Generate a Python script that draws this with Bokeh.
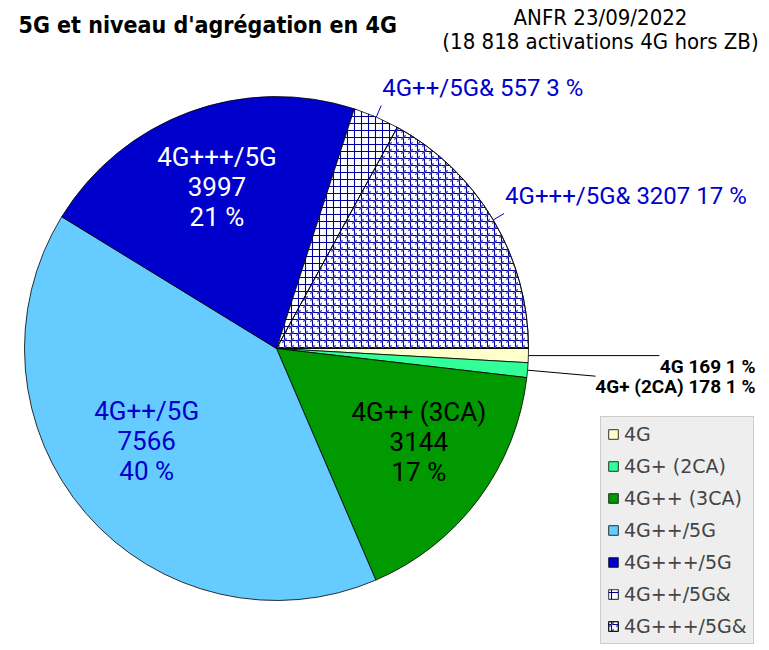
import math
from bokeh.plotting import figure
from bokeh.models import Range1d, Legend, LegendItem
from bokeh.core.properties import value
from bokeh.embed import file_html
from bokeh.resources import INLINE

# ---------------- data ----------------
categories = ["4G", "4G+ (2CA)", "4G++ (3CA)", "4G++/5G", "4G+++/5G", "4G++/5G&", "4G+++/5G&"]
counts = [169, 178, 3144, 7566, 3997, 557, 3207]
title_text = "5G et niveau d'agrégation en 4G"
source_text = "ANFR 23/09/2022\n(18 818 activations 4G hors ZB)"

# ---------------- styles ----------------
fill_colors = ["#FFFFCC", "#33FF99", "#009900", "#66CCFF", "#0000CC", "#FFFFFF", "#FFFFFF"]
hatch_patterns = [None, None, None, None, None, "+", "+"]
label_modes = ["out_small", "out_small", "in", "in", "in", "out", "out"]
label_colors = ["#000000", "#000000", "#000000", "#0000CC", "#FFFFFF", "#0000CC", "#0000CC"]
# layout tweaks (screen px): leader ends for the small outside labels, shifts for inner labels
small_leader_end = {0: (131, 0), 1: (68, 6)}
inner_shift = {2: (9, -6), 3: (-4, -16), 4: (-2, -5)}

W, H = 769, 650
def X(px): return px
def Y(py): return H - py

cx, cy, R = X(276), Y(348), 252
LABEL_FONT = value("Roboto")

p = figure(width=W, height=H, x_range=Range1d(0, W), y_range=Range1d(0, H),
           output_backend="svg", toolbar_location=None, min_border=0,
           x_axis_location=None, y_axis_location=None)
p.outline_line_color = None
p.xgrid.visible = False
p.ygrid.visible = False

total = sum(counts)
cum = [0.0]
for c in counts:
    cum.append(cum[-1] + c / total)

legend_items = []
for i, cat in enumerate(categories):
    a0 = -cum[i + 1] * 2 * math.pi
    a1 = -cum[i] * 2 * math.pi
    kw = dict(x=cx, y=cy, radius=R, start_angle=a0, end_angle=a1,
              fill_color=fill_colors[i], line_color="#000000", line_width=0.8)
    if hatch_patterns[i]:
        kw.update(hatch_pattern=hatch_patterns[i], hatch_color="#000099",
                  hatch_scale=7, hatch_weight=1.1)
    r = p.wedge(**kw)
    rs = [r]
    if cat == "4G+++/5G&":
        r2 = p.wedge(x=cx, y=cy, radius=R, start_angle=a0, end_angle=a1,
                     fill_color=None, line_color=None,
                     hatch_pattern="right_diagonal_dash", hatch_color="#4444CC",
                     hatch_scale=7, hatch_weight=1.3)
        r3 = p.wedge(x=cx, y=cy, radius=R, start_angle=a0, end_angle=a1,
                     fill_color=None, line_color="#000000", line_width=0.8)
        rs = [r, r2, r3]
    legend_items.append(LegendItem(label=cat, renderers=rs))

    # labels
    mid = (a0 + a1) / 2
    pct = round(counts[i] / total * 100)
    mode = label_modes[i]
    if mode == "in":
        dx, dy = inner_shift[i]
        lx = cx + 0.66 * R * math.cos(mid) + dx
        ly = cy + 0.66 * R * math.sin(mid) - dy
        p.text(x=[lx], y=[ly], text=[f"{cat}\n{counts[i]}\n{pct} %"],
               text_font=LABEL_FONT, text_font_size="26px", text_color=label_colors[i],
               text_align="center", text_baseline="middle", text_line_height=1.0)
    elif mode == "out":
        x0 = cx + R * math.cos(mid); y0 = cy + R * math.sin(mid)
        x1 = cx + 1.05 * R * math.cos(mid); y1 = cy + 1.05 * R * math.sin(mid)
        p.line(x=[x0, x1], y=[y0, y1], line_color="#0000CC", line_width=1)
        p.text(x=[x1 + 1], y=[y1 + 18], text=[f"{cat} {counts[i]} {pct} %"],
               text_font=LABEL_FONT, text_font_size="24px", text_color=label_colors[i],
               text_align="left", text_baseline="alphabetic")
    else:
        x0 = cx + R * math.cos(mid); y0 = cy + R * math.sin(mid)
        ex, ey = small_leader_end[i]
        x1 = x0 + ex; y1 = y0 - ey
        p.line(x=[x0, x1], y=[y0, y1], line_color="#000000", line_width=1)
        p.text(x=[X(755)], y=[y1 + 1], text=[f"{cat} {counts[i]} {pct} %"],
               text_font=LABEL_FONT, text_font_size="19px", text_font_style="bold",
               text_color=label_colors[i], text_align="right", text_baseline="top")

# title & source
p.text(x=[X(18)], y=[Y(24)], text=[title_text], text_font=value("DejaVu Sans Condensed"),
       text_font_size="23px", text_font_style="bold", text_color="#000000",
       text_align="left", text_baseline="middle")
p.text(x=[X(600)], y=[Y(29)], text=[source_text], text_font=value("DejaVu Sans Condensed"),
       text_font_size="22px", text_color="#000000",
       text_align="center", text_baseline="middle", text_line_height=0.94)

legend = Legend(items=legend_items, location=(X(600), 6),
                background_fill_color="#EEEEEE", background_fill_alpha=1,
                border_line_color="#AAAAAA", border_line_width=1,
                label_text_font="DejaVu Sans", label_text_font_size="19px",
                glyph_width=12, glyph_height=12, label_standoff=5,
                spacing=10, padding=6, margin=0, label_height=22)
p.add_layout(legend, "center")

open("out.html", "w").write(file_html(p, INLINE))
